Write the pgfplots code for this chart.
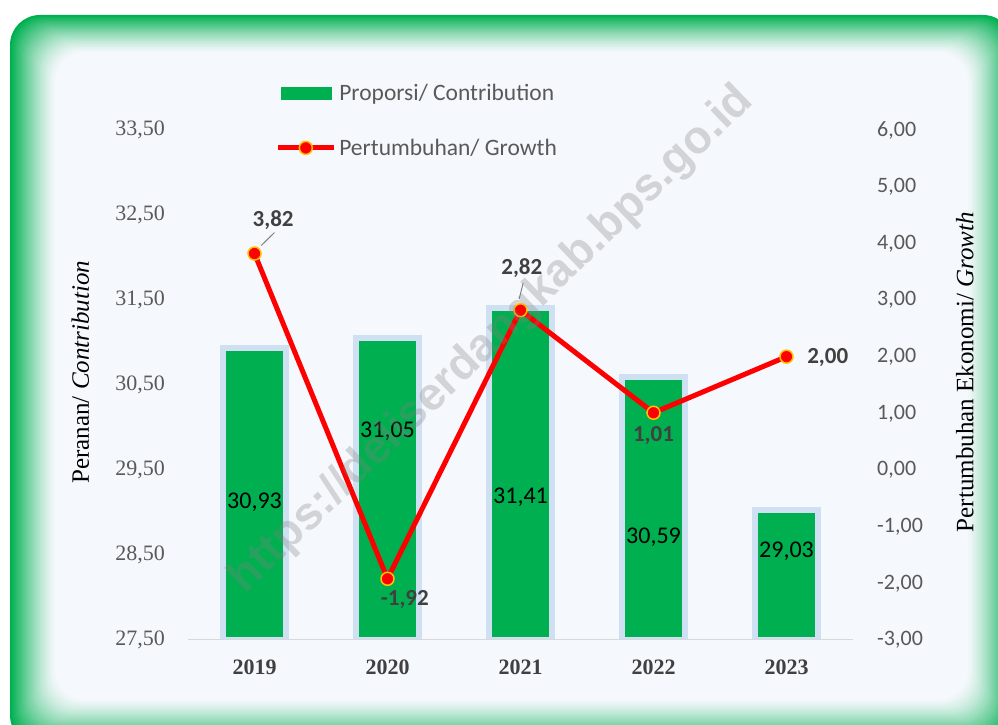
\documentclass[border=0pt]{standalone}
\usepackage{fontspec}
\usepackage{pgfplots}
\pgfplotsset{compat=1.18}
\setmainfont{Liberation Serif}
\newfontfamily\calibri{Carlito}
\newfontfamily\arialf{Liberation Sans}
\definecolor{bpsgreen}{HTML}{00B050}
\definecolor{halo}{HTML}{CFE0F2}
\definecolor{mkedge}{HTML}{FFC000}
\definecolor{lblgray}{HTML}{404040}
\definecolor{tickgray}{HTML}{595959}
\definecolor{bgin}{HTML}{F5F8FC}
\begin{document}
\begin{tikzpicture}[x=1bp,y=1bp]
\useasboundingbox (0,0) rectangle (998,725);
\fill[white] (0,0) rectangle (998,725);
% green faded frame
\foreach \i in {0,...,24}{
  \pgfmathsetmacro\t{\i/24}
  \pgfmathsetmacro\xa{10+45*\t}
  \pgfmathsetmacro\ya{725-(15+37*\t)}
  \pgfmathsetmacro\xb{1013-45*\t}
  \pgfmathsetmacro\yb{725-(745-45*\t)}
  \pgfmathsetmacro\p{100*(1-\t)^1.3}
  \fill[bpsgreen!\p!bgin, rounded corners=30bp] (\xa,\yb) rectangle (\xb,\ya);
}
% left axis: bars
\begin{axis}[
  at={(188bp,85bp)}, anchor=south west,
  scale only axis, width=665bp, height=510bp,
  xmin=-0.5, xmax=4.5, ymin=27.5, ymax=33.5,
  xtick={0,1,2,3,4}, xticklabels={2019,2020,2021,2022,2023},
  ytick={27.5,28.5,29.5,30.5,31.5,32.5,33.5},
  axis line style={draw=none}, major tick length=0pt,
  /pgf/number format/.cd, use comma, fixed, fixed zerofill, precision=2, assume math mode=true,
  /pgfplots/.cd,
  yticklabel style={font=\fontsize{22bp}{26bp}\selectfont, text=tickgray, inner sep=0pt, anchor=east, xshift=-23bp},
  xticklabel style={font=\bfseries\fontsize{22bp}{26bp}\selectfont, text=lblgray, inner sep=0pt, anchor=north, yshift=-20bp},
  ylabel={Peranan/ \textit{Contribution}},
  ylabel style={font=\fontsize{25bp}{29bp}\selectfont, text=black, at={(axis description cs:-0.162,0.525)}, anchor=center, rotate=0},
  ybar, bar width=63bp, bar shift=0pt,
]
\addplot[fill=bpsgreen, draw=halo, line width=6bp] coordinates {(0,30.93) (1,31.05) (2,31.41) (3,30.59) (4,29.03)};
\draw[gray!30, line width=2bp] (rel axis cs:0,0) -- (rel axis cs:1,0);
\begin{scope}[font=\calibri\fontsize{24bp}{28bp}\selectfont, text=black]
\node at (axis cs:0,29.12) {30,93};
\node at (axis cs:1,29.95) {31,05};
\node at (axis cs:2,29.18) {31,41};
\node at (axis cs:3,28.71) {30,59};
\node at (axis cs:4,28.54) {29,03};
\end{scope}
\end{axis}
% right axis: line
\begin{axis}[
  at={(188bp,85bp)}, anchor=south west,
  scale only axis, width=665bp, height=510bp,
  xmin=-0.5, xmax=4.5, ymin=-3, ymax=6,
  axis x line=none,
  ytick={-3,-2,-1,0,1,2,3,4,5,6},
  yticklabel pos=right,
  axis line style={draw=none}, major tick length=0pt,
  /pgf/number format/.cd, use comma, fixed, fixed zerofill, precision=2, assume math mode=true,
  /pgfplots/.cd,
  yticklabel style={font=\calibri\fontsize{22bp}{26bp}\selectfont, text=tickgray, inner sep=0pt, anchor=west, xshift=24bp},
  ylabel={Pertumbuhan Ekonomi/ \textit{Growth}},
  ylabel style={font=\fontsize{25bp}{29bp}\selectfont, text=black, at={(axis description cs:1.168,0.525)}, anchor=center, rotate=0},
  legend style={at={(axis description cs:0.1265,1.1)}, anchor=north west, draw=none, fill=none,
    font=\calibri\fontsize{23.5bp}{27bp}\selectfont, text=tickgray, row sep=31bp,
    nodes={inner sep=3bp}},
  legend cell align=left,
]
\addlegendimage{legend image code/.code={\fill[bpsgreen] (0bp,-6bp) rectangle (50bp,6bp);}}
\addlegendentry{Proporsi/ Contribution}
\addplot[red, line width=5bp, mark=*, mark options={fill=red, draw=mkedge, line width=1.5bp}, mark size=6.5bp,
  legend image code/.code={\draw[red, line width=5bp] (-3bp,0) -- (53bp,0); \draw[fill=red, draw=mkedge, line width=1.5bp] (25bp,0) circle (6.5bp);}]
  coordinates {(0,3.82) (1,-1.92) (2,2.82) (3,1.01) (4,2.00)};
\addlegendentry{Pertumbuhan/ Growth}
\draw[gray, line width=1bp] (axis cs:0.05,3.96) -- (axis cs:0.15,4.19);
\draw[gray, line width=1bp] (axis cs:1.99,3.02) -- (axis cs:2.02,3.30);
\begin{scope}[font=\calibri\bfseries\fontsize{23bp}{27bp}\selectfont, text=lblgray]
\node at (axis cs:0.14,4.41) {3,82};
\node at (axis cs:1.13,-2.29) {-1,92};
\node at (axis cs:2.01,3.56) {2,82};
\node at (axis cs:3.0,0.60) {1,01};
\node at (axis cs:4.31,1.99) {2,00};
\end{scope}
\end{axis}
% watermark
\node[rotate=44, text=gray, opacity=0.3, font=\arialf\bfseries\fontsize{46bp}{50bp}\selectfont] at (492,385) {https://deliserdangkab.bps.go.id};
\end{tikzpicture}
\end{document}
